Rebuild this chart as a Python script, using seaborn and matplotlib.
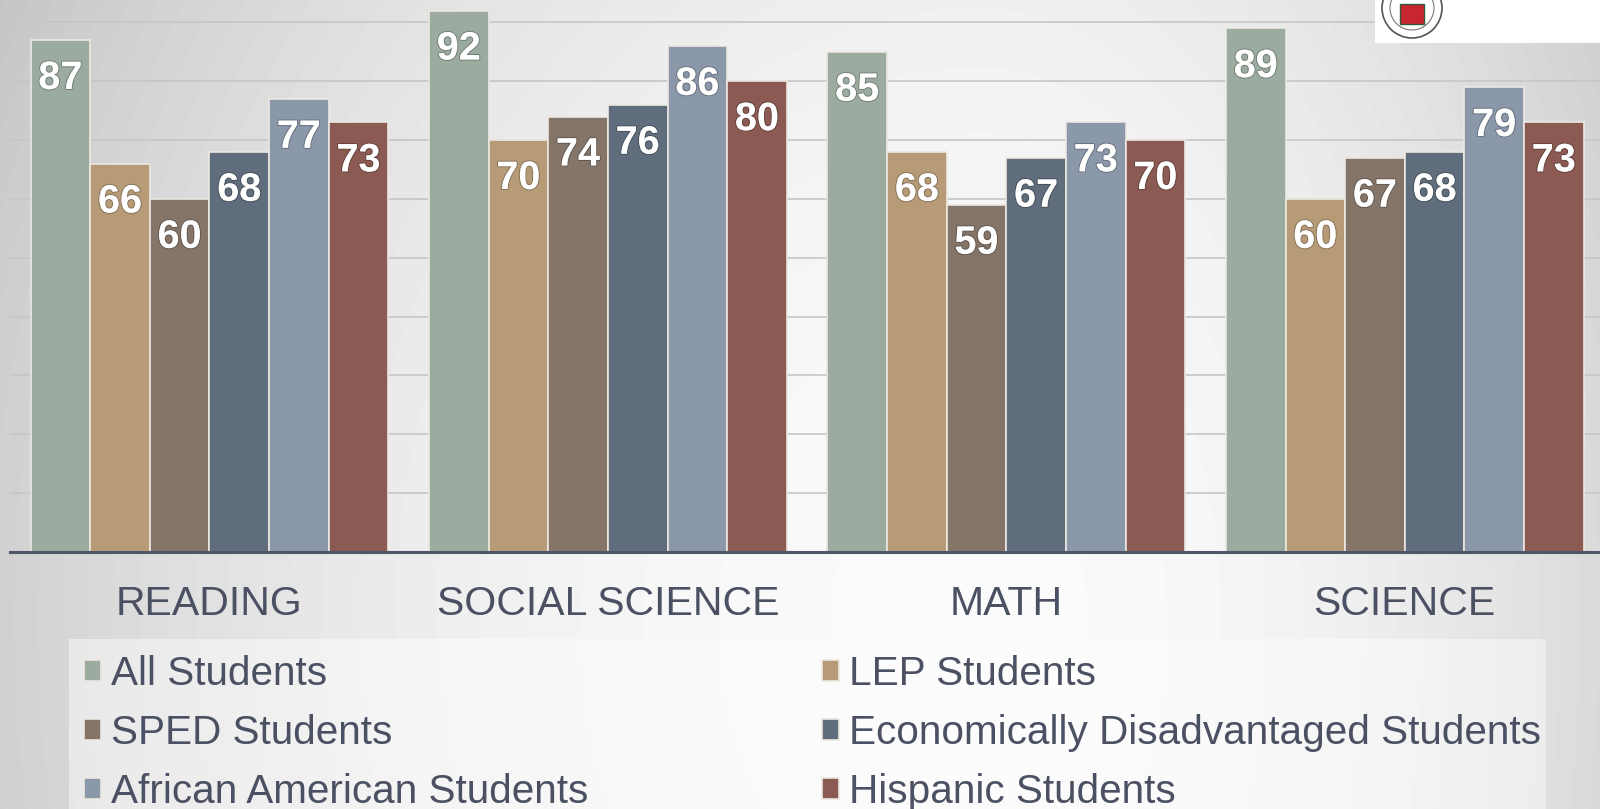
import numpy as np
import pandas as pd
import seaborn as sns
import matplotlib.pyplot as plt
import matplotlib.patheffects as pe
from matplotlib.patches import Rectangle, Circle

# data
subjects = ["READING", "SOCIAL SCIENCE", "MATH", "SCIENCE"]
groups = ["All Students", "LEP Students", "SPED Students",
          "Economically Disadvantaged Students", "African American Students",
          "Hispanic Students"]
all_students = [87, 92, 85, 89]
lep_students = [66, 70, 68, 60]
sped_students = [60, 74, 59, 67]
econ_disadv = [68, 76, 67, 68]
african_american = [77, 86, 73, 79]
hispanic = [73, 80, 70, 73]

colors = ["#9bab9f", "#b79b77", "#857569", "#5f6d7c", "#8a98aa", "#8b5a52"]
text_color = "#4b5062"

series = [all_students, lep_students, sped_students, econ_disadv,
          african_american, hispanic]
df = pd.DataFrame({
    "subject": np.tile(subjects, len(groups)),
    "group": np.repeat(groups, len(subjects)),
    "score": np.concatenate(series),
})

sns.set_theme(style="white")
plt.rcParams["font.family"] = ["Liberation Sans", "DejaVu Sans"]

fig = plt.figure(figsize=(16, 8.09), dpi=100)

# soft radial background
bg = fig.add_axes([0, 0, 1, 1], zorder=-10)
yy, xx = np.mgrid[0:809, 0:1600]
dx = xx - 980.0
sx = np.where(dx < 0, 980.0, 700.0)
v = 251 - 42 * (dx / sx) ** 2 - 12 * ((yy - 620.0) / 640.0) ** 2
v = np.clip(v, 180, 252) / 255.0
bg.imshow(v, cmap="gray", vmin=0, vmax=1, aspect="auto", extent=[0, 1, 0, 1], origin="upper")
bg.set_axis_off()

ax = fig.add_axes([0.0064, 0.3177, 0.9936, 0.6823])
ax.set_facecolor("none")

sns.barplot(data=df, x="subject", y="score", hue="group", palette=colors,
            width=0.898, gap=0, edgecolor="#ece8e2", linewidth=1.2,
            saturation=1, ax=ax, zorder=3)

for cont in ax.containers:
    labels = ax.bar_label(cont, fmt="%d", padding=-41, color="white",
                          fontsize=28.5, fontweight="bold", zorder=5)
    for t in labels:
        t.set_path_effects([pe.withStroke(linewidth=1.5, foreground=(0, 0, 0, 0.25))])

ax.set_xlim(-0.5, 3.49)
ax.set_ylim(0, 93.8)
ax.set_yticks(range(0, 91, 10))
ax.set_yticklabels([])
ax.yaxis.grid(True, color="#c6c6c6", linewidth=1.2, zorder=0)
ax.set_axisbelow(True)
ax.set_xlabel("")
ax.set_ylabel("")
ax.tick_params(axis="x", length=0, pad=24, labelsize=29.5, labelcolor=text_color)
ax.tick_params(axis="y", length=0)
for side in ["top", "right", "left"]:
    ax.spines[side].set_visible(False)
ax.spines["bottom"].set_color("#50566a")
ax.spines["bottom"].set_linewidth(2.2)
ax.spines["bottom"].set_zorder(6)

# legend panel below the chart
handles, labels = ax.get_legend_handles_labels()
ax.get_legend().remove()
fig.patches.append(Rectangle((69 / 1600, -0.01), (1546 - 69) / 1600, 1 - 639 / 809 + 0.01,
                             transform=fig.transFigure, facecolor=(1, 1, 1, 0.45),
                             edgecolor="none", zorder=-5))
order = [0, 2, 4, 1, 3, 5]
fig.legend([handles[i] for i in order], [labels[i] for i in order], ncol=2,
           loc="upper left", bbox_to_anchor=(0.0525, 0.19), frameon=False,
           fontsize=29.2, labelcolor=text_color, handlelength=0.42, handleheight=0.42,
           handletextpad=0.25, columnspacing=5.75, labelspacing=0.52,
           borderpad=0, borderaxespad=0)

# logo box in the corner
fig.patches.append(Rectangle((1375 / 1600, 1 - 43 / 809), 225 / 1600, 43 / 809,
                             transform=fig.transFigure, facecolor="white",
                             edgecolor="none", zorder=10))
logo = fig.add_axes([1380 / 1600, 1 - 43 / 809, 64 / 1600, 43 / 809], zorder=11)
logo.set_xlim(-32, 32)
logo.set_ylim(-35, 8)
logo.set_aspect("equal")
logo.set_axis_off()
logo.add_patch(Circle((0, 0), 30, facecolor="white", edgecolor="#555555", linewidth=1.2))
logo.add_patch(Circle((0, 0), 22, facecolor="white", edgecolor="#777777", linewidth=0.8))
logo.add_patch(Rectangle((-12, -16), 24, 20, facecolor="#c8262e", edgecolor="#2f5a3a", linewidth=1))

fig.savefig("out.png", dpi=100)
